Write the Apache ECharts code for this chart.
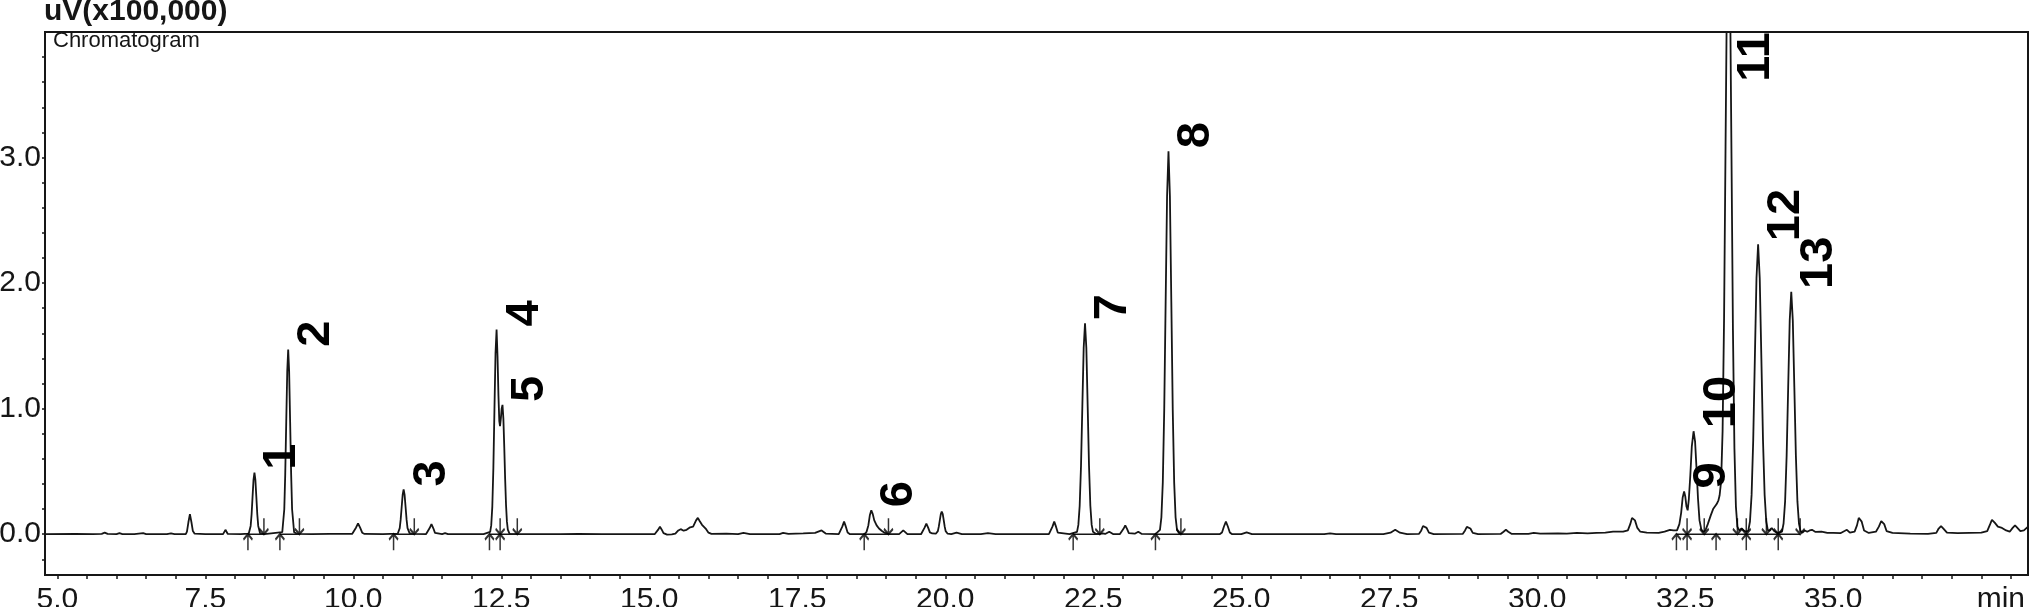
<!DOCTYPE html>
<html><head><meta charset="utf-8">
<style>html,body{margin:0;padding:0;background:#fff;}#chart{width:2031px;height:607px;}</style>
<script src="https://cdn.jsdelivr.net/npm/echarts@6/dist/echarts.min.js"></script>
</head><body><div id="chart"></div>
<script>
// ---- data ----
const peakNames   = ['1','2','3','4','5','6','7','8','9','10','11','12','13'];
const peakTimes   = [8.33, 8.90, 10.85, 12.42, 12.52, 18.75, 22.36, 23.77, 32.48, 32.64, 33.23, 33.73, 34.29];
const peakHeights = [0.49, 1.47, 0.357, 1.63, 1.03, 0.19, 1.68, 3.05, 0.34, 0.82, 5.0, 2.31, 1.93];

const startMarks = [8.22, 8.76, 10.68, 12.30, 12.48, 18.63, 22.16, 23.55, 32.35, 32.53, 33.02, 33.53, 34.07];
const endMarks   = [8.49, 9.09, 11.03, 12.48, 12.77, 19.04, 22.61, 23.98, 32.53, 32.82, 33.38, 33.53, 33.87, 34.07, 34.44];
const baselineSegments = [[8.22,8.49],[8.76,9.09],[10.68,11.03],[12.30,12.77],[18.63,19.04],[22.16,22.61],[23.55,23.98],[32.35,34.44]];

const xTickLabels = [5.0, 7.5, 10.0, 12.5, 15.0, 17.5, 20.0, 22.5, 25.0, 27.5, 30.0, 32.5, 35.0];
const xUnitLabelAt = 37.83;   // where "min" is written
const yTickLabels = [0.0, 1.0, 2.0, 3.0];

const traceEarly = [[4.79,0.0],[5.3,0.002],[5.6,0.0],[5.75,0.003],[5.8,0.012],[5.85,0.002],[6.0,0.0],[6.05,0.008],[6.1,0.0],[6.3,0.0],[6.45,0.008],[6.5,0.0],[6.85,0.0],[6.92,0.007],[6.98,0.0],[7.17,0.0],[7.19,0.02],[7.215,0.097],[7.24,0.16],[7.265,0.097],[7.29,0.025],[7.32,0.004],[7.5,0.0],[7.8,0.0],[7.84,0.035],[7.88,0.002],[8.1,0.0],[8.234,0.005],[8.266,0.066],[8.282,0.159],[8.298,0.297],[8.314,0.432],[8.33,0.49],[8.346,0.432],[8.362,0.297],[8.378,0.159],[8.394,0.066],[8.426,0.006],[8.5,0.0],[8.80,0.016],[8.834,0.199],[8.85,0.477],[8.867,0.892],[8.884,1.297],[8.90,1.47],[8.916,1.297],[8.933,0.892],[8.95,0.477],[8.966,0.199],[9.0,0.016],[9.05,0.003],[9.3,0.0],[9.6,0.002],[9.98,0.002],[10.01,0.012],[10.045,0.052],[10.08,0.085],[10.115,0.052],[10.15,0.012],[10.19,0.002],[10.5,0.0],[10.75,0.004],[10.784,0.048],[10.80,0.116],[10.817,0.217],[10.834,0.315],[10.85,0.357],[10.866,0.315],[10.883,0.217],[10.90,0.116],[10.916,0.048],[10.95,0.008],[10.99,0.003],[11.23,0.001],[11.26,0.011],[11.29,0.049],[11.32,0.08],[11.35,0.049],[11.38,0.011],[11.41,0.002],[11.5,0.0],[11.55,0.008],[11.6,0.0],[12.2,0.0],[12.312,0.018],[12.33,0.072],[12.348,0.22],[12.366,0.529],[12.384,0.989],[12.402,1.438],[12.42,1.63],[12.436,1.42],[12.452,1.1],[12.466,0.9],[12.478,0.86],[12.492,0.92],[12.506,1.0],[12.52,1.03],[12.535,0.92],[12.55,0.693],[12.565,0.438],[12.58,0.23],[12.595,0.1],[12.61,0.037],[12.64,0.003],[12.7,0.0],[13.5,0.0],[13.8,0.003],[14.2,0.0],[15.0,0.0]];

const traceMid = [[15.09,0.0],[15.12,0.008],[15.15,0.036],[15.18,0.06],[15.21,0.036],[15.24,0.008],[15.3,-0.004],[15.38,-0.002],[15.44,0.004],[15.49,0.03],[15.53,0.04],[15.58,0.028],[15.63,0.035],[15.69,0.055],[15.74,0.06],[15.79,0.11],[15.82,0.13],[15.85,0.105],[15.89,0.075],[15.92,0.07],[15.96,0.04],[16.0,0.012],[16.05,0.002],[16.3,0.004],[16.5,0.0],[16.59,0.01],[16.7,0.0],[17.2,0.0],[17.26,0.01],[17.35,0.002],[17.6,0.006],[17.8,0.01],[17.91,0.03],[17.98,0.005],[18.2,0.001],[18.23,0.013],[18.26,0.06],[18.29,0.1],[18.32,0.06],[18.35,0.013],[18.39,0.0],[18.64,0.0],[18.67,0.02],[18.70,0.07],[18.725,0.15],[18.75,0.19],[18.775,0.16],[18.80,0.11],[18.84,0.07],[18.88,0.045],[18.93,0.025],[18.98,0.01],[19.04,0.0],[19.22,0.0],[19.29,0.03],[19.36,0.0],[19.59,0.0],[19.62,0.011],[19.65,0.052],[19.68,0.085],[19.71,0.052],[19.74,0.015],[19.78,0.006],[19.84,0.004],[19.874,0.024],[19.89,0.06],[19.907,0.11],[19.924,0.16],[19.94,0.18],[19.957,0.16],[19.974,0.11],[19.99,0.06],[20.006,0.024],[20.04,0.004],[20.1,0.0],[20.19,0.012],[20.28,0.0],[20.6,0.0],[20.72,0.008],[20.85,0.0],[21.75,0.001],[21.78,0.013],[21.81,0.06],[21.84,0.1],[21.87,0.06],[21.90,0.013],[21.93,0.002],[22.1,0.0],[22.225,0.019],[22.2475,0.074],[22.27,0.227],[22.2925,0.545],[22.315,1.019],[22.3375,1.483],[22.36,1.68],[22.3825,1.483],[22.405,1.019],[22.4275,0.545],[22.45,0.227],[22.4725,0.074],[22.495,0.019],[22.54,0.004],[22.6,0.0],[22.66,0.006],[22.7,0.002],[22.77,0.02],[22.84,0.0],[22.95,0.001],[22.98,0.009],[23.01,0.043],[23.04,0.07],[23.07,0.043],[23.10,0.009],[23.13,0.0],[23.2,0.004],[23.26,0.02],[23.32,0.002],[23.55,0.0],[23.626,0.034],[23.65,0.134],[23.674,0.413],[23.698,0.99],[23.722,1.85],[23.746,2.692],[23.77,3.05],[23.794,2.692],[23.818,1.85],[23.842,0.99],[23.866,0.413],[23.89,0.134],[23.914,0.034],[23.95,0.008],[24.0,0.0],[24.64,0.001],[24.674,0.014],[24.707,0.061],[24.74,0.1],[24.773,0.061],[24.806,0.014],[24.84,0.001],[25.0,0.0],[25.09,0.015],[25.18,0.0]];

const traceLate = [[25.6,0.0],[26.4,0.0],[26.5,0.006],[26.6,0.0],[27.4,0.0],[27.52,0.012],[27.6,0.035],[27.68,0.012],[27.8,0.0],[28.0,0.002],[28.04,0.03],[28.07,0.065],[28.1,0.075],[28.13,0.05],[28.17,0.012],[28.25,0.0],[28.74,0.002],[28.78,0.03],[28.81,0.058],[28.84,0.066],[28.87,0.045],[28.91,0.01],[29.0,0.0],[29.38,0.002],[29.43,0.02],[29.47,0.035],[29.51,0.02],[29.57,0.002],[29.85,0.003],[29.94,0.01],[30.05,0.004],[30.35,0.006],[30.5,0.004],[30.67,0.01],[30.85,0.006],[31.0,0.01],[31.15,0.012],[31.28,0.02],[31.45,0.02],[31.53,0.03],[31.57,0.08],[31.6,0.13],[31.62,0.14],[31.65,0.11],[31.69,0.05],[31.74,0.02],[31.85,0.012],[32.05,0.01],[32.15,0.02],[32.24,0.035],[32.3,0.03],[32.36,0.03],[32.40,0.08],[32.43,0.17],[32.455,0.29],[32.48,0.34],[32.50,0.3],[32.52,0.22],[32.54,0.19],[32.56,0.28],[32.585,0.47],[32.61,0.7],[32.64,0.82],[32.665,0.74],[32.69,0.52],[32.715,0.28],[32.74,0.11],[32.77,0.04],[32.80,0.02],[32.84,0.03],[32.88,0.08],[32.93,0.15],[32.97,0.2],[33.0,0.21],[33.03,0.24],[33.06,0.27],[33.08,0.31],[33.105,0.42],[33.13,0.82],[33.155,1.72],[33.18,3.09],[33.205,4.44],[33.23,5.0],[33.255,4.41],[33.28,3.03],[33.305,1.62],[33.33,0.68],[33.355,0.22],[33.38,0.06],[33.41,0.03],[33.45,0.045],[33.49,0.03],[33.53,0.02],[33.565,0.03],[33.5925,0.101],[33.62,0.313],[33.6475,0.75],[33.675,1.401],[33.7025,2.039],[33.73,2.31],[33.7575,2.039],[33.785,1.401],[33.8125,0.75],[33.84,0.313],[33.8675,0.101],[33.895,0.03],[33.93,0.03],[33.96,0.05],[34.0,0.025],[34.06,0.008],[34.134,0.021],[34.16,0.085],[34.186,0.261],[34.212,0.627],[34.238,1.171],[34.264,1.703],[34.29,1.93],[34.316,1.703],[34.342,1.171],[34.368,0.627],[34.394,0.261],[34.42,0.085],[34.446,0.025],[34.48,0.012],[34.52,0.03],[34.56,0.02],[34.6,0.03],[34.64,0.035],[34.7,0.018],[34.8,0.02],[34.9,0.01],[35.0,0.01],[35.12,0.008],[35.19,0.025],[35.23,0.035],[35.28,0.012],[35.36,0.02],[35.4,0.07],[35.43,0.13],[35.45,0.14],[35.48,0.1],[35.52,0.03],[35.6,0.01],[35.72,0.02],[35.77,0.06],[35.81,0.105],[35.83,0.11],[35.86,0.08],[35.9,0.025],[36.0,0.01],[36.3,0.004],[36.6,0.002],[36.74,0.01],[36.78,0.045],[36.82,0.065],[36.86,0.045],[36.92,0.012],[37.1,0.008],[37.3,0.01],[37.5,0.012],[37.6,0.025],[37.65,0.08],[37.68,0.115],[37.7,0.12],[37.73,0.09],[37.78,0.06],[37.85,0.05],[37.92,0.03],[37.98,0.02],[38.03,0.05],[38.07,0.07],[38.11,0.05],[38.16,0.025],[38.22,0.03],[38.29,0.06]];

// ---- build ----
const INK = '#161616';
const FONT = '"Liberation Sans", Arial, sans-serif';
const LABEL_FONT = '"Liberation Sans Narrow", "Arial Narrow", "Liberation Sans", sans-serif';
const Y_MIN = -0.325, Y_MAX = 4.0, LABEL_CAP = 3.58;

const trace = traceEarly.concat(traceMid, traceLate);
const baselineData = [];
baselineSegments.forEach(([a, b]) => { baselineData.push([a, 0], [b, 0], [b, '-']); });

const xMinorTicks = []; for (let v = 5; v <= 38.01; v += 0.5) xMinorTicks.push(+v.toFixed(1));
const yMinorTicks = []; for (let v = -0.2; v <= 3.81; v += 0.2) yMinorTicks.push(+v.toFixed(1));

const labelData = peakNames.map((n, i) => ({ name: n, value: [peakTimes[i], Math.min(peakHeights[i], LABEL_CAP)] }));

const UP_ARROW = 'path://M4,0 L4,15 M0,5 L4,0 L8,5';
const DOWN_ARROW = 'path://M4,15 L4,0 M0,10 L4,15 L8,10';

const chart = echarts.init(document.getElementById('chart'), null, { renderer: 'canvas' });
chart.setOption({
  animation: false,
  backgroundColor: '#ffffff',
  title: [
    { text: 'uV(x100,000)', left: 44, top: -3, padding: 0,
      textStyle: { fontFamily: FONT, fontWeight: 'bold', fontSize: 30, color: INK } },
    { text: 'Chromatogram', left: 53, top: 30, padding: 0,
      textStyle: { fontFamily: FONT, fontWeight: 'normal', fontSize: 22, color: INK } }
  ],
  grid: { left: 45, right: 3, top: 32, bottom: 32, containLabel: false, outerBoundsMode: 'none',
    show: true, borderColor: INK, borderWidth: 2, backgroundColor: 'transparent' },
  xAxis: {
    type: 'value', min: 4.792, max: 38.289,
    splitLine: { show: false },
    axisLine: { show: true, onZero: false, lineStyle: { color: INK, width: 2 } },
    axisTick: { show: true, inside: false, length: 4, customValues: xMinorTicks, lineStyle: { color: INK, width: 1.5 } },
    axisLabel: { show: true, margin: 10, fontSize: 30, fontFamily: FONT, color: INK,
      customValues: xTickLabels.concat([xUnitLabelAt]),
      formatter: v => (Math.abs(v - xUnitLabelAt) < 1e-6 ? 'min' : v.toFixed(1)) }
  },
  yAxis: {
    type: 'value', min: Y_MIN, max: Y_MAX,
    splitLine: { show: false },
    axisLine: { show: true, onZero: false, lineStyle: { color: INK, width: 2 } },
    axisTick: { show: true, inside: false, length: 3, customValues: yMinorTicks, lineStyle: { color: INK, width: 1.5 } },
    axisLabel: { show: true, margin: 4, fontSize: 30, fontFamily: FONT, color: INK,
      customValues: yTickLabels, formatter: v => v.toFixed(1) }
  },
  series: [
    { name: 'Chromatogram', type: 'line', data: trace, showSymbol: false, symbol: 'none', clip: true,
      lineStyle: { color: INK, width: 1.8 }, z: 3 },
    { name: 'baseline', type: 'line', data: baselineData, showSymbol: false, symbol: 'none', connectNulls: false,
      lineStyle: { color: INK, width: 1.6 }, z: 2 },
    { name: 'start', type: 'scatter', data: startMarks.map(t => [t, 0]), symbol: UP_ARROW, symbolSize: [9, 16],
      symbolOffset: [0, 8], itemStyle: { color: 'none', borderColor: '#000', borderWidth: 2 }, z: 4 },
    { name: 'end', type: 'scatter', data: endMarks.map(t => [t, 0]), symbol: DOWN_ARROW, symbolSize: [9, 16],
      symbolOffset: [0, -8], itemStyle: { color: 'none', borderColor: '#000', borderWidth: 2 }, z: 4 },
    { name: 'labels', type: 'scatter', data: labelData, symbol: 'circle', symbolSize: 1, symbolOffset: [28, -3],
      itemStyle: { color: 'transparent' }, z: 5,
      label: { show: true, position: 'inside', formatter: p => p.name, rotate: 90, align: 'left', verticalAlign: 'middle',
        fontFamily: LABEL_FONT, fontWeight: 'bold', fontSize: 47, color: '#000', opacity: 1,
        textBorderWidth: 0, textShadowBlur: 0 } }
  ]
});
</script></body></html>
